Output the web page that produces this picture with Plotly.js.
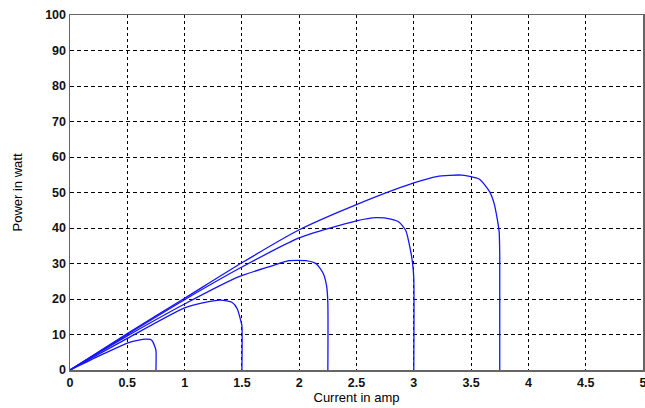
<!DOCTYPE html>
<html>
<head>
<meta charset="utf-8">
<script src="https://cdn.plot.ly/plotly-3.0.1.min.js"></script>
<style>
  html, body { margin: 0; padding: 0; background: #fff; }
  #chart { width: 645px; height: 408px; }
</style>
</head>
<body>
<div id="chart"></div>
<script>
// P-I characteristics of the PV module, one curve per irradiance level
const current1 = [0, 0.25, 0.5, 0.6, 0.66, 0.70, 0.72, 0.74, 0.75, 0.75];
const power1   = [0, 3.9, 7.6, 8.4, 8.7, 8.6, 8.1, 6.6, 5.5, 0];

const current2 = [0, 0.5, 1.0, 1.2, 1.315, 1.416, 1.46, 1.49, 1.5, 1.5];
const power2   = [0, 8.9, 17.5, 19.2, 19.7, 19.0, 17.2, 13.9, 12.5, 0];

const current3 = [0, 0.5, 1.0, 1.475, 1.75, 1.91, 2.06, 2.15, 2.21, 2.24, 2.25, 2.25];
const power3   = [0, 9.6, 18.6, 26.3, 29.2, 30.8, 30.8, 29.9, 27.2, 23.5, 18.8, 0];

const current4 = [0, 0.5, 1.0, 1.5, 2.0, 2.5, 2.67, 2.80, 2.87, 2.93, 2.97, 2.99, 3.0, 3.0];
const power4   = [0, 10.0, 19.8, 29.0, 37.2, 42.0, 42.9, 42.5, 41.7, 39.3, 33.9, 29.9, 25.7, 0];

const current5 = [0, 0.5, 1.0, 1.5, 2.0, 2.5, 3.0, 3.2, 3.42, 3.57, 3.66, 3.70, 3.73, 3.745, 3.75, 3.75];
const power5   = [0, 10.3, 20.2, 30.2, 39.5, 46.6, 52.7, 54.5, 54.9, 53.8, 50.3, 47.0, 42.2, 38.8, 31.8, 0];

const xTicks = [0, 0.5, 1, 1.5, 2, 2.5, 3, 3.5, 4, 4.5, 5];
const xTickText = ["0", "0.5", "1", "1.5", "2", "2.5", "3", "3.5", "4", "4.5", "5"];
const yTicks = [0, 10, 20, 30, 40, 50, 60, 70, 80, 90, 100];

const series = [
  [current1, power1],
  [current2, power2],
  [current3, power3],
  [current4, power4],
  [current5, power5]
];

const traces = series.map(([x, y]) => ({
  x: x,
  y: y,
  type: 'scatter',
  mode: 'lines',
  line: { color: '#1414ff', width: 1.3, shape: 'spline', smoothing: 0.6 },
  hoverinfo: 'x+y',
  showlegend: false
}));

const tickFont = { family: 'Liberation Sans, Arial, sans-serif', size: 12.5, color: '#111', weight: 'bold' };
const titleFont = { family: 'Liberation Sans, Arial, sans-serif', size: 13, color: '#000' };

const layout = {
  width: 645,
  height: 408,
  margin: { l: 70, r: 2, t: 15, b: 38, pad: 0 },
  paper_bgcolor: '#ffffff',
  plot_bgcolor: '#ffffff',
  xaxis: {
    range: [0, 5],
    tickvals: xTicks,
    ticktext: xTickText,
    ticks: '',
    ticklabeloverflow: 'allow',
    tickfont: tickFont,
    showgrid: true,
    gridcolor: '#000',
    gridwidth: 1,
    griddash: '3px,3px',
    zeroline: false,
    showline: true,
    linecolor: '#666',
    linewidth: 1.5,
    mirror: true,
    automargin: false,
    title: { text: 'Current in amp', font: titleFont, standoff: 4 }
  },
  yaxis: {
    range: [0, 100],
    tickvals: yTicks,
    ticks: '',
    tickfont: tickFont,
    showgrid: true,
    gridcolor: '#000',
    gridwidth: 1,
    griddash: '4px,3px',
    zeroline: false,
    showline: true,
    linecolor: '#666',
    linewidth: 1.5,
    mirror: true,
    automargin: false,
    title: { text: 'Power in watt', font: titleFont, standoff: 19 }
  }
};

Plotly.newPlot('chart', traces, layout, { displayModeBar: false, staticPlot: true });
</script>
</body>
</html>
